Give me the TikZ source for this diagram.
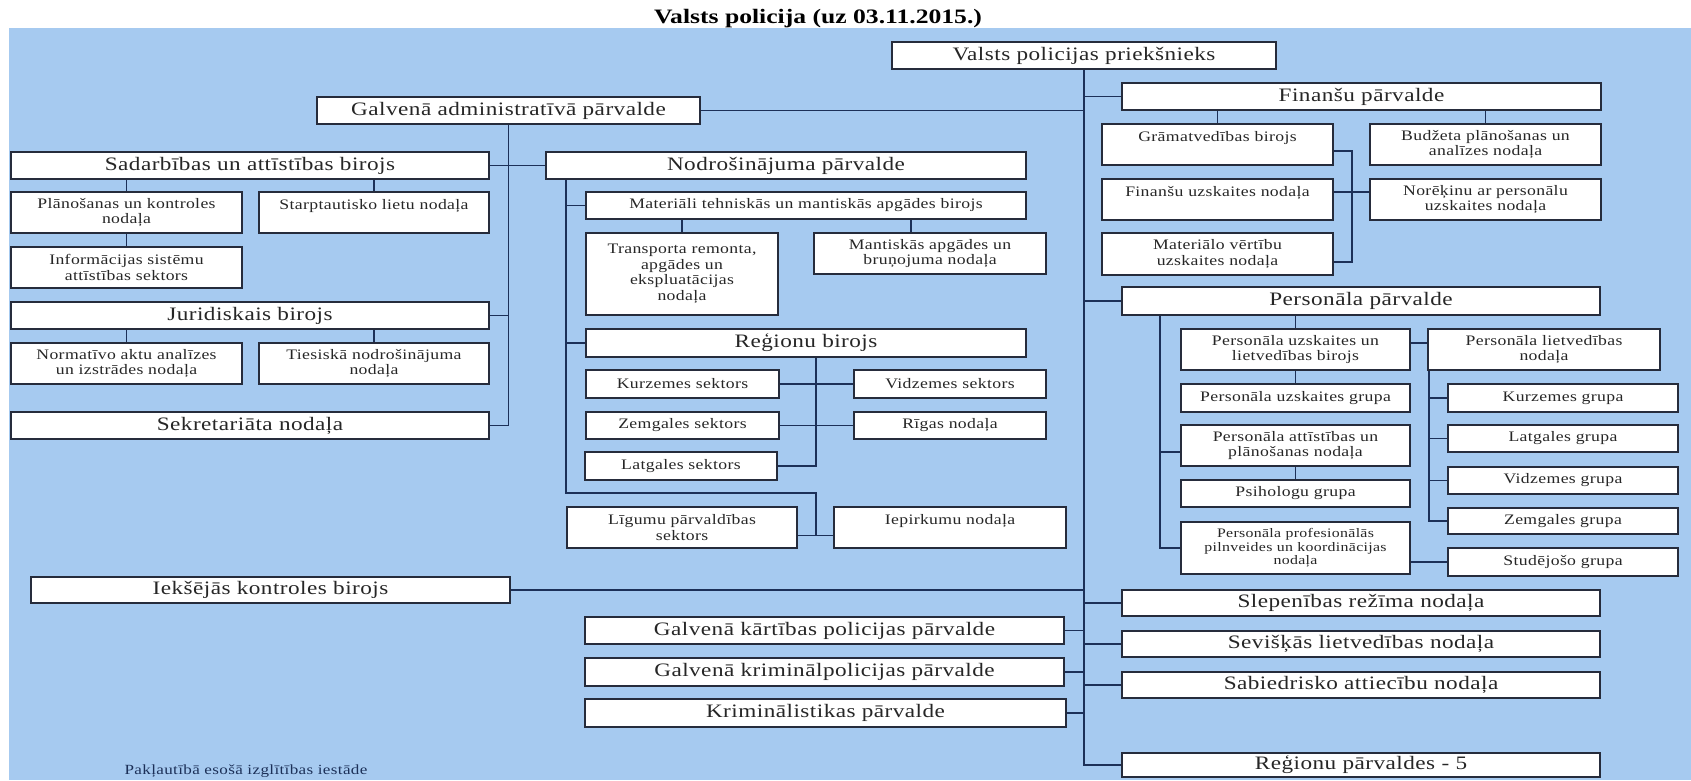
\documentclass[tikz,border=0pt]{standalone}
\usepackage{fontspec}
\setmainfont{Liberation Serif}
\newfontfamily\orgfont{Liberation Serif}[FakeStretch=1.22,LetterSpace=2.5]
\newfontfamily\titlefont{Liberation Serif}[FakeStretch=1.25]

\definecolor{chartBg}{RGB}{166,202,240}
\definecolor{chartLine}{RGB}{28,48,88}
\definecolor{chartEdge}{RGB}{38,44,60}
\colorlet{chartInk}{black!85}

\begin{document}
\begin{tikzpicture}[x=1pt, y=-1pt,
    wh/.style 2 args={minimum width=#1, minimum height=#2},
    unit/.style={draw=chartEdge, fill=white, line width=1.5pt, inner sep=0pt,
                 align=center, text=chartInk},
    unitbig/.style={unit, font=\orgfont\fontsize{19}{21}\selectfont},
    unitsmall/.style={unit, font=\orgfont\fontsize{14.5}{15.5}\selectfont},
    link/.style={draw=chartLine, line width=1.8pt}]
        \useasboundingbox (0,0) rectangle (1691,780);
        \fill[white] (0,0) rectangle (1691,780);
        \fill[chartBg] (9,28) rectangle (1691,780);
        \node[font=\titlefont\bfseries\fontsize{20.5}{22}\selectfont] (title) at (818,19)
              {Valsts policija (uz 03.11.2015.)};

        % vadiba un administrativa parvalde
        \node[unitbig, wh={384}{27}] (prieks) at (1084,55.5) {Valsts policijas priekšnieks};
        \node[unitbig, wh={383}{27}] (admin) at (508.5,110.5) {Galvenā administratīvā pārvalde};
        \node[unitbig, wh={478}{27}] (sadarb) at (250,165.5) {Sadarbības un attīstības birojs};
        \node[unitsmall, wh={231}{41}] (planos) at (126.5,212.5) {Plānošanas un kontroles\\nodaļa};
        \node[unitsmall, wh={230}{41}] (starpt) at (374,212.5) {Starptautisko lietu nodaļa\\\mbox{}};
        \node[unitsmall, wh={231}{41}] (info) at (126.5,267.5) {Informācijas sistēmu\\attīstības sektors};
        \node[unitbig, wh={478}{27}] (jur) at (250,315.5) {Juridiskais birojs};
        \node[unitsmall, wh={231}{41}] (normat) at (126.5,363.5) {Normatīvo aktu analīzes\\un izstrādes nodaļa};
        \node[unitsmall, wh={230}{41}] (ties) at (374,363.5) {Tiesiskā nodrošinājuma\\nodaļa};
        \node[unitbig, wh={478}{27}] (sekr) at (250,425.5) {Sekretariāta nodaļa};
        \node[unitbig, wh={479}{26}] (iekse) at (270.5,590) {Iekšējās kontroles birojs};

        % nodrosinajuma parvalde
        \node[unitbig, wh={480}{27}] (nodr) at (786,165.5) {Nodrošinājuma pārvalde};
        \node[unitsmall, wh={440}{27}] (mater) at (806,205.5) {Materiāli tehniskās un mantiskās apgādes birojs};
        \node[unitsmall, wh={192}{82}] (transp) at (682,274) {Transporta remonta,\\apgādes un\\ekspluatācijas\\nodaļa};
        \node[unitsmall, wh={232}{41}] (mant) at (930,253.5) {Mantiskās apgādes un\\bruņojuma nodaļa};
        \node[unitbig, wh={440}{28}] (regb) at (806,343) {Reģionu birojs};
        \node[unitsmall, wh={193}{28}] (kurz) at (682.5,384) {Kurzemes sektors};
        \node[unitsmall, wh={192}{28}] (vidz) at (950,384) {Vidzemes sektors};
        \node[unitsmall, wh={193}{27}] (zemg) at (682.5,425.5) {Zemgales sektors};
        \node[unitsmall, wh={192}{27}] (rigas) at (950,425.5) {Rīgas nodaļa};
        \node[unitsmall, wh={192}{28}] (latg) at (681,466) {Latgales sektors};
        \node[unitsmall, wh={230}{41}] (ligum) at (682,527.5) {Līgumu pārvaldības\\sektors};
        \node[unitsmall, wh={232}{41}] (iepirk) at (950,527.5) {Iepirkumu nodaļa\\\mbox{}};

        \node[unitbig, wh={479}{27}] (kart) at (824.5,630.5) {Galvenā kārtības policijas pārvalde};
        \node[unitbig, wh={479}{28}] (krim) at (824.5,672) {Galvenā kriminālpolicijas pārvalde};
        \node[unitbig, wh={481}{28}] (krist) at (825.5,713) {Kriminālistikas pārvalde};

        % finansu parvalde
        \node[unitbig, wh={479}{27}] (fin) at (1361.5,96.5) {Finanšu pārvalde};
        \node[unitsmall, wh={231}{41}] (gram) at (1217.5,144.5) {Grāmatvedības birojs\\\mbox{}};
        \node[unitsmall, wh={231}{41}] (budz) at (1485.5,144.5) {Budžeta plānošanas un\\analīzes nodaļa};
        \node[unitsmall, wh={231}{41}] (finu) at (1217.5,199.5) {Finanšu uzskaites nodaļa\\\mbox{}};
        \node[unitsmall, wh={231}{41}] (norek) at (1485.5,199.5) {Norēķinu ar personālu\\uzskaites nodaļa};
        \node[unitsmall, wh={231}{42}] (mvert) at (1217.5,254) {Materiālo vērtību\\uzskaites nodaļa};

        % personala parvalde
        \node[unitbig, wh={478}{28}] (pers) at (1361,301) {Personāla pārvalde};
        \node[unitsmall, wh={229}{41}] (pulb) at (1295.5,349.5) {Personāla uzskaites un\\lietvedības birojs};
        \node[unitsmall, wh={232}{41}] (pliet) at (1544,349.5) {Personāla lietvedības\\nodaļa};
        \node[unitsmall, wh={229}{28}] (pug) at (1295.5,398) {Personāla uzskaites grupa};
        \node[unitsmall, wh={229}{41}] (att) at (1295.5,445.5) {Personāla attīstības un\\plānošanas nodaļa};
        \node[unitsmall, wh={229}{27}] (psih) at (1295.5,493.5) {Psihologu grupa};
        \node[unitsmall, wh={229}{52}, font=\orgfont\fontsize{13}{13.5}\selectfont] (prof) at (1295.5,548)
              {Personāla profesionālās\\pilnveides un koordinācijas\\nodaļa};
        \node[unitsmall, wh={230}{28}] (kg) at (1563,398) {Kurzemes grupa};
        \node[unitsmall, wh={230}{27}] (lg) at (1563,438.5) {Latgales grupa};
        \node[unitsmall, wh={230}{27}] (vg) at (1563,480.5) {Vidzemes grupa};
        \node[unitsmall, wh={230}{26}] (zg) at (1563,521) {Zemgales grupa};
        \node[unitsmall, wh={230}{28}] (stud) at (1563,562) {Studējošo grupa};

        \node[unitbig, wh={478}{26}] (slep) at (1361,603) {Slepenības režīma nodaļa};
        \node[unitbig, wh={478}{26}] (sev) at (1361,644) {Sevišķās lietvedības nodaļa};
        \node[unitbig, wh={478}{26}] (sab) at (1361,685) {Sabiedrisko attiecību nodaļa};
        \node[unitbig, wh={478}{24}] (reg5) at (1361,765) {Reģionu pārvaldes - 5};

        \node[font=\orgfont\fontsize{14}{15}\selectfont, text=chartLine] (izgl) at (246,771)
              {Pakļautībā esošā izglītības iestāde};

        % savienojumi
        \draw[link] (prieks.south) |- (reg5.west);
        \foreach \n in {fin,pers,slep,sev,sab}
          \draw[link] (\n.west) -- (\n.west -| prieks.south);
        \foreach \n in {admin,iekse,kart,krim,krist}
          \draw[link] (\n.east) -- (\n.east -| prieks.south);

        \draw[link] (admin.south) |- (sekr.east);
        \draw[link] (sadarb.east) -- (nodr.west);
        \draw[link] (jur.east) -- (jur.east -| admin.south);
        \foreach \p/\c in {sadarb/planos, sadarb/starpt, planos/info, jur/normat, jur/ties}
          \draw[link] (\c.north) -- (\c.north |- \p.south);

        \coordinate (nodrv) at ([xshift=21]nodr.south west);
        \coordinate (nodrbend) at (816,493);
        \coordinate (ligjoin) at ([yshift=-8]ligum.east);
        \draw[link] (nodrv) |- (nodrbend) -- (nodrbend |- ligjoin);
        \draw[link] (ligjoin) -- (ligjoin -| iepirk.west);
        \foreach \n in {mater,regb}
          \draw[link] (\n.west) -- (\n.west -| nodrv);
        \draw[link] (transp.north) -- (transp.north |- mater.south);
        \draw[link] ([xshift=-19]mant.north) -- ([xshift=-19]mant.north |- mater.south);
        \coordinate (regv) at ([xshift=10]regb.south);
        \draw[link] (regv) |- (latg.east);
        \draw[link] (kurz.east) -- (vidz.west);
        \draw[link] (zemg.east) -- (rigas.west);

        \draw[link] (gram.north) -- (gram.north |- fin.south);
        \draw[link] (budz.north) -- (budz.north |- fin.south);
        \draw[link] ([yshift=-6.5]gram.east) -| ([xshift=18,yshift=-8]mvert.east) -- ([yshift=-8]mvert.east);
        \draw[link] ([yshift=7.5]finu.east) -- ([yshift=7.5]norek.west);

        \coordinate (persv) at ([xshift=39]pers.south west);
        \draw[link] (persv) |- (prof.west);
        \draw[link] ([yshift=-6.5]att.west) -- ([yshift=-6.5]att.west -| persv);
        \draw[link] (pulb.north) -- (pulb.north |- pers.south);
        \draw[link] (pulb.south) -- (pug.north);
        \draw[link] (att.south) -- (psih.north);
        \draw[link] ([yshift=6.5]pulb.east) -- ([yshift=6.5]pliet.west);
        \coordinate (lietv) at ([xshift=2]pliet.south west);
        \draw[link] (lietv) |- (zg.west);
        \foreach \n in {kg,lg,vg}
          \draw[link] (\n.west) -- (\n.west -| lietv);
        \draw[link] (stud.west) -- (stud.west -| prof.east);
      \end{tikzpicture}
\end{document}
